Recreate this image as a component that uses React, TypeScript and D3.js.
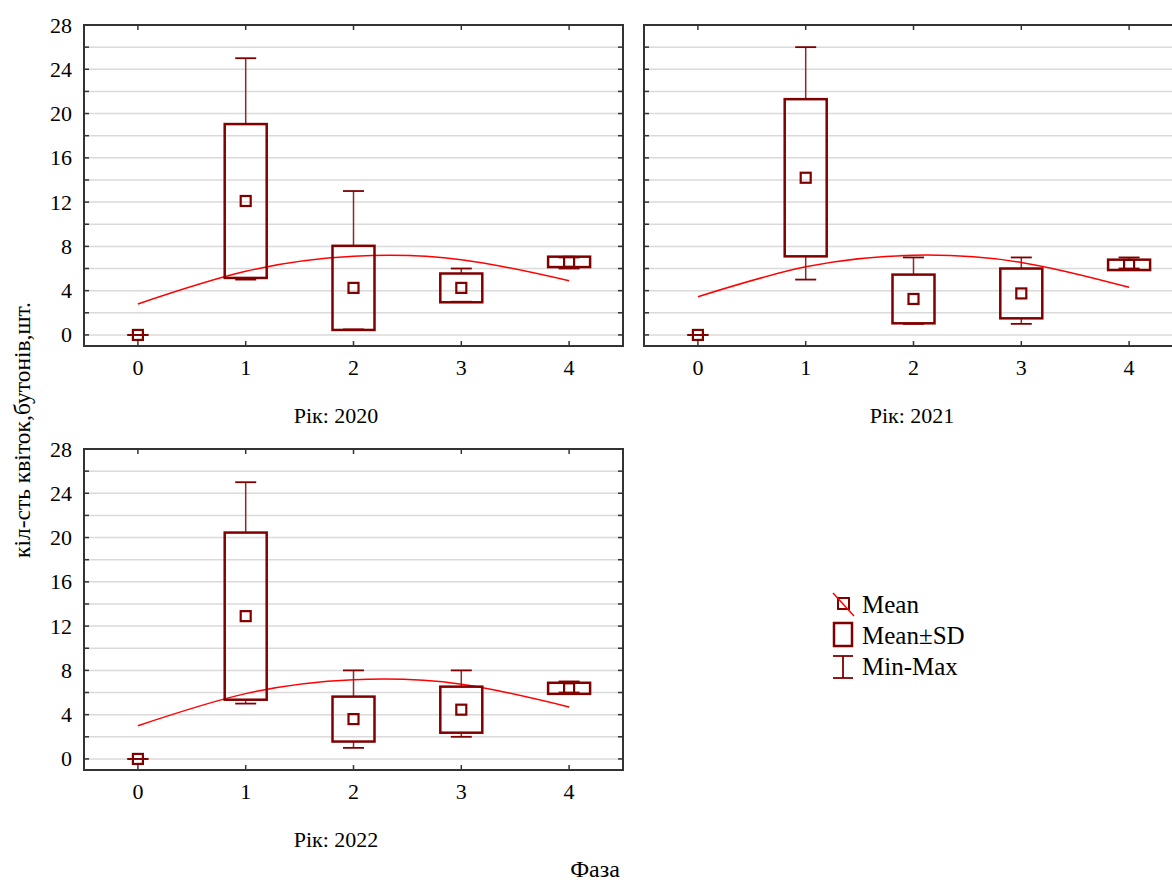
import React, { useEffect, useRef } from 'react'
import * as d3 from 'd3'

// phases on the x axis
const phases = [0, 1, 2, 3, 4]
const yTicks = [0, 4, 8, 12, 16, 20, 24, 28]
const gridTicks = [0, 2, 4, 6, 8, 10, 12, 14, 16, 18, 20, 22, 24, 26, 28]

// Рік: 2020
const mean2020 = [0, 12.1, 4.25, 4.25, 6.6]
const sd2020 = [0, 6.95, 3.8, 1.3, 0.47]
const min2020 = [0, 5, 0.5, 3, 6]
const max2020 = [0, 25, 13, 6, 7]
const trend2020 = [2.8, 5.75, 7.1, 6.8, 4.9]

// Рік: 2021
const mean2021 = [0, 14.2, 3.25, 3.75, 6.33]
const sd2021 = [0, 7.1, 2.2, 2.25, 0.47]
const min2021 = [0, 5, 1, 1, 6]
const max2021 = [0, 26, 7, 7, 7]
const trend2021 = [3.45, 6.15, 7.2, 6.55, 4.3]

// Рік: 2022
const mean2022 = [0, 12.9, 3.6, 4.45, 6.38]
const sd2022 = [0, 7.55, 2.03, 2.08, 0.5]
const min2022 = [0, 5, 1, 2, 6]
const max2022 = [0, 25, 8, 8, 7]
const trend2022 = [3.0, 5.9, 7.15, 6.75, 4.7]

const legendLabels = ['Mean', 'Mean±SD', 'Min-Max']

const DARK = '#800000'
const WHISK = '#8a2a2a'
const FONT = "'Liberation Serif', 'Times New Roman', serif"

const App = () => {
    const svgRef = useRef<SVGSVGElement>(null)

    useEffect(() => {
        const svg: any = d3.select(svgRef.current)
        svg.selectAll('*').remove()

        const panels = [
            { title: 'Рік: 2020', left: 84, top: 25, labels: true, titleX: 336, mean: mean2020, sd: sd2020, min: min2020, max: max2020, trend: trend2020 },
            { title: 'Рік: 2021', left: 644, top: 25, labels: false, titleX: 912, mean: mean2021, sd: sd2021, min: min2021, max: max2021, trend: trend2021 },
            { title: 'Рік: 2022', left: 84, top: 449, labels: true, titleX: 336, mean: mean2022, sd: sd2022, min: min2022, max: max2022, trend: trend2022 },
        ]
        const w = 539
        const h = 321

        panels.forEach((p) => {
            const x = d3.scaleLinear().domain([-0.5, 4.5]).range([p.left, p.left + w])
            const y = d3.scaleLinear().domain([-1, 28]).range([p.top + h, p.top])
            const g = svg.append('g')

            // grid
            g.selectAll('.grid')
                .data(gridTicks.filter((t) => t < 28))
                .join('line')
                .attr('x1', p.left).attr('x2', p.left + w)
                .attr('y1', (d: number) => y(d)).attr('y2', (d: number) => y(d))
                .attr('stroke', '#dadada').attr('stroke-width', 1.5)

            // inside ticks left / right
            g.selectAll('.tl')
                .data(gridTicks)
                .join('line')
                .attr('x1', p.left).attr('x2', p.left + 5)
                .attr('y1', (d: number) => y(d)).attr('y2', (d: number) => y(d))
                .attr('stroke', '#333').attr('stroke-width', 1.5)
            g.selectAll('.tr')
                .data(gridTicks)
                .join('line')
                .attr('x1', p.left + w - 5).attr('x2', p.left + w)
                .attr('y1', (d: number) => y(d)).attr('y2', (d: number) => y(d))
                .attr('stroke', '#333').attr('stroke-width', 1.5)
            // top / bottom ticks
            g.selectAll('.tt')
                .data(phases)
                .join('line')
                .attr('x1', (d: number) => x(d)).attr('x2', (d: number) => x(d))
                .attr('y1', p.top).attr('y2', p.top + 5)
                .attr('stroke', '#333').attr('stroke-width', 1.5)
            g.selectAll('.tb')
                .data(phases)
                .join('line')
                .attr('x1', (d: number) => x(d)).attr('x2', (d: number) => x(d))
                .attr('y1', p.top + h - 5).attr('y2', p.top + h)
                .attr('stroke', '#333').attr('stroke-width', 1.5)

            // frame
            g.append('rect')
                .attr('x', p.left).attr('y', p.top).attr('width', w).attr('height', h)
                .attr('fill', 'none').attr('stroke', '#333').attr('stroke-width', 2)

            // tick labels
            if (p.labels) {
                g.selectAll('.yl')
                    .data(yTicks)
                    .join('text')
                    .attr('x', p.left - 12)
                    .attr('y', (d: number) => y(d) + 7.5)
                    .attr('text-anchor', 'end')
                    .style('font-family', FONT).style('font-size', '22px')
                    .text((d: number) => d)
            }
            g.selectAll('.xl')
                .data(phases)
                .join('text')
                .attr('x', (d: number) => x(d))
                .attr('y', p.top + h + 29)
                .attr('text-anchor', 'middle')
                .style('font-family', FONT).style('font-size', '22px')
                .text((d: number) => d)

            g.append('text')
                .attr('x', p.titleX).attr('y', p.top + h + 77)
                .attr('text-anchor', 'middle')
                .style('font-family', FONT).style('font-size', '22px')
                .text(p.title)

            // trend curve
            const line = d3.line<number>()
                .x((_d, i) => x(phases[i]))
                .y((d) => y(d))
                .curve(d3.curveNatural)
            g.append('path')
                .attr('d', line(p.trend))
                .attr('fill', 'none').attr('stroke', '#ff0000').attr('stroke-width', 1.5)

            // boxes
            phases.forEach((ph, i) => {
                const cx = x(ph)
                const m = p.mean[i]
                const s = p.sd[i]
                const top = y(m + s)
                const bot = y(m - s)
                if (p.max[i] > m + s) {
                    g.append('line').attr('x1', cx).attr('x2', cx).attr('y1', top).attr('y2', y(p.max[i]))
                        .attr('stroke', WHISK).attr('stroke-width', 1.5)
                }
                if (p.min[i] < m - s) {
                    g.append('line').attr('x1', cx).attr('x2', cx).attr('y1', bot).attr('y2', y(p.min[i]))
                        .attr('stroke', WHISK).attr('stroke-width', 1.5)
                }
                ;[p.max[i], p.min[i]].forEach((v) => {
                    g.append('line').attr('x1', cx - 10.5).attr('x2', cx + 10.5).attr('y1', y(v)).attr('y2', y(v))
                        .attr('stroke', DARK).attr('stroke-width', 1.8)
                })
                if (s > 0) {
                    g.append('rect')
                        .attr('x', cx - 21).attr('y', top).attr('width', 42).attr('height', bot - top)
                        .attr('fill', 'none').attr('stroke', DARK).attr('stroke-width', 2.5)
                }
                g.append('rect')
                    .attr('x', cx - 5).attr('y', y(m) - 5).attr('width', 10).attr('height', 10)
                    .attr('fill', 'none').attr('stroke', DARK).attr('stroke-width', 2.2)
            })
        })

        // axis titles
        svg.append('text')
            .attr('transform', 'translate(30,430) rotate(-90)')
            .attr('text-anchor', 'middle')
            .style('font-family', FONT).style('font-size', '23.5px')
            .text('кіл-сть квіток,бутонів,шт.')
        svg.append('text')
            .attr('x', 595).attr('y', 877)
            .attr('text-anchor', 'middle')
            .style('font-family', FONT).style('font-size', '24px')
            .text('Фаза')

        // legend
        const lg = svg.append('g')
        lg.append('rect').attr('x', 838).attr('y', 598).attr('width', 11).attr('height', 11)
            .attr('fill', 'none').attr('stroke', DARK).attr('stroke-width', 2)
        lg.append('line').attr('x1', 833).attr('y1', 593).attr('x2', 854).attr('y2', 616)
            .attr('stroke', '#ff0000').attr('stroke-width', 1.5)
        lg.append('rect').attr('x', 834).attr('y', 623).attr('width', 18).attr('height', 23)
            .attr('fill', 'none').attr('stroke', DARK).attr('stroke-width', 2.5)
        lg.append('line').attr('x1', 843).attr('x2', 843).attr('y1', 656).attr('y2', 678)
            .attr('stroke', DARK).attr('stroke-width', 1.8)
        lg.append('line').attr('x1', 833).attr('x2', 853).attr('y1', 656).attr('y2', 656)
            .attr('stroke', DARK).attr('stroke-width', 1.8)
        lg.append('line').attr('x1', 833).attr('x2', 853).attr('y1', 678).attr('y2', 678)
            .attr('stroke', DARK).attr('stroke-width', 1.8)
        lg.selectAll('.lt')
            .data(legendLabels)
            .join('text')
            .attr('x', 862)
            .attr('y', (_d: string, i: number) => 613 + i * 31)
            .style('font-family', FONT).style('font-size', '25px')
            .text((d: string) => d)
    }, [])

    return (
        <svg ref={svgRef} width={1172} height={884}
            style={{ position: 'absolute', left: 0, top: 0, background: '#fff' }} />
    )
}

export default App
